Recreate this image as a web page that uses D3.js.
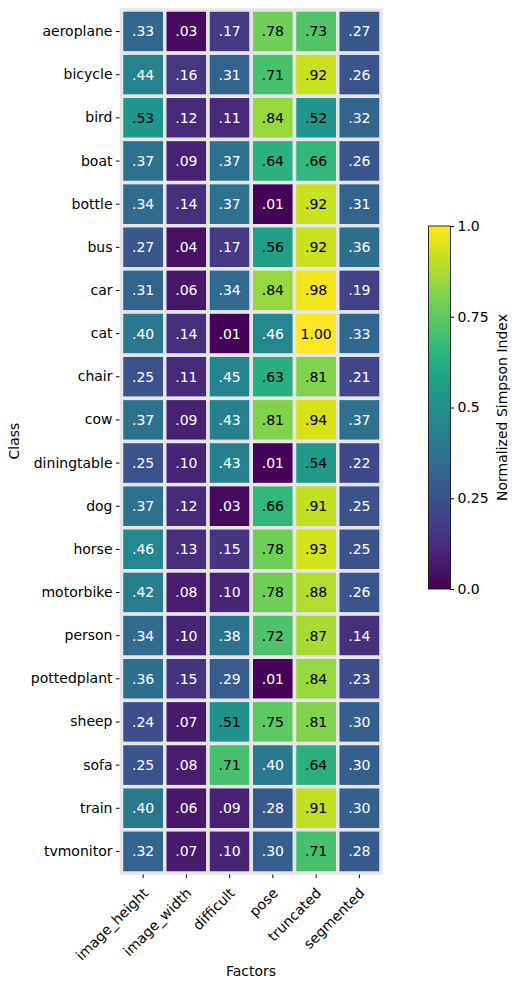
<!DOCTYPE html>
<html>
<head>
<meta charset="utf-8">
<script src="https://cdn.jsdelivr.net/npm/d3@7"></script>
<style>
  body { margin: 0; background: #fff; }
  text { font-family: "DejaVu Sans", sans-serif; fill: #000; }
</style>
</head>
<body>
<svg id="chart" width="519" height="990"></svg>
<script>
var classes = ['aeroplane','bicycle','bird','boat','bottle','bus','car','cat','chair','cow',
               'diningtable','dog','horse','motorbike','person','pottedplant','sheep','sofa','train','tvmonitor'];
var factors = ['image_height','image_width','difficult','pose','truncated','segmented'];

// one row per class, columns in factor order
var values = [
  [.33, .03, .17, .78, .73, .27],
  [.44, .16, .31, .71, .92, .26],
  [.53, .12, .11, .84, .52, .32],
  [.37, .09, .37, .64, .66, .26],
  [.34, .14, .37, .01, .92, .31],
  [.27, .04, .17, .56, .92, .36],
  [.31, .06, .34, .84, .98, .19],
  [.40, .14, .01, .46, 1.00, .33],
  [.25, .11, .45, .63, .81, .21],
  [.37, .09, .43, .81, .94, .37],
  [.25, .10, .43, .01, .54, .22],
  [.37, .12, .03, .66, .91, .25],
  [.46, .13, .15, .78, .93, .25],
  [.42, .08, .10, .78, .88, .26],
  [.34, .10, .38, .72, .87, .14],
  [.36, .15, .29, .01, .84, .23],
  [.24, .07, .51, .75, .81, .30],
  [.25, .08, .71, .40, .64, .30],
  [.40, .06, .09, .28, .91, .30],
  [.32, .07, .10, .30, .71, .28]
];
var cbarTicks = [0, 0.25, 0.5, 0.75, 1.0];
var cbarLabels = ['0.0', '0.25', '0.5', '0.75', '1.0'];

var svg = d3.select("#chart");

var x = d3.scaleBand().domain(factors).range([121.5, 381]);
var y = d3.scaleBand().domain(classes).range([10, 873]);
var color = d3.scaleSequential(d3.interpolateViridis).domain([0, 1]);

var cells = [];
values.forEach(function(row, i) {
  row.forEach(function(v, j) {
    cells.push({cls: classes[i], f: factors[j], v: v});
  });
});

function fmt(v) {
  var s = v.toFixed(2);
  return s.charAt(0) === '0' ? s.slice(1) : s;
}

svg.selectAll("rect.cell")
  .data(cells)
  .join("rect")
    .attr("class", "cell")
    .attr("x", function(d) { return x(d.f); })
    .attr("y", function(d) { return y(d.cls); })
    .attr("width", x.bandwidth())
    .attr("height", y.bandwidth())
    .attr("fill", function(d) { return color(d.v); })
    .attr("stroke", "#e6e6e6")
    .attr("stroke-width", 3.5);

svg.selectAll("text.val")
  .data(cells)
  .join("text")
    .attr("class", "val")
    .attr("x", function(d) { return x(d.f) + x.bandwidth() / 2; })
    .attr("y", function(d) { return y(d.cls) + y.bandwidth() / 2; })
    .attr("dy", "0.35em")
    .attr("text-anchor", "middle")
    .style("font-size", "14px")
    .style("fill", function(d) { return d.v > 0.5 ? "#000" : "#fff"; })
    .text(function(d) { return fmt(d.v); });

// y axis
var yAxis = svg.append("g")
  .attr("transform", "translate(119.5,0)")
  .call(d3.axisLeft(y).tickSize(3.5).tickPadding(3.5));
yAxis.select(".domain").remove();
yAxis.selectAll("text").style("font-size", "14px").style("font-family", "DejaVu Sans");

// x axis
var xAxis = svg.append("g")
  .attr("transform", "translate(0,874.5)")
  .call(d3.axisBottom(x).tickSize(3.5).tickFormat(""));
xAxis.select(".domain").remove();

svg.selectAll("text.xlab")
  .data(factors)
  .join("text")
    .attr("class", "xlab")
    .attr("transform", function(d) {
      return "translate(" + (x(d) + x.bandwidth() / 2 + 6) + ",894) rotate(-45)";
    })
    .attr("text-anchor", "end")
    .style("font-size", "14px")
    .text(function(d) { return d; });

svg.append("text")
  .attr("x", 251)
  .attr("y", 976)
  .attr("text-anchor", "middle")
  .style("font-size", "14px")
  .text("Factors");

svg.append("text")
  .attr("transform", "translate(19,441) rotate(-90)")
  .attr("text-anchor", "middle")
  .style("font-size", "14px")
  .text("Class");

// colorbar
var cb = {x: 428.5, y: 226, w: 22, h: 363};
var cy = d3.scaleLinear().domain([0, 1]).range([cb.y + cb.h, cb.y]);
var defs = svg.append("defs");
var grad = defs.append("linearGradient")
  .attr("id", "viridis")
  .attr("x1", "0").attr("y1", "1").attr("x2", "0").attr("y2", "0");
d3.range(0, 1.0001, 0.05).forEach(function(t) {
  grad.append("stop").attr("offset", t).attr("stop-color", color(t));
});
svg.append("rect")
  .attr("x", cb.x).attr("y", cb.y)
  .attr("width", cb.w).attr("height", cb.h)
  .attr("fill", "url(#viridis)")
  .attr("stroke", "#000")
  .attr("stroke-width", 0.8);

var cAxis = svg.append("g")
  .attr("transform", "translate(" + (cb.x + cb.w) + ",0)")
  .call(d3.axisRight(cy).tickValues(cbarTicks).tickSize(3.5).tickPadding(3.5)
        .tickFormat(function(d, i) { return cbarLabels[i]; }));
cAxis.select(".domain").remove();
cAxis.selectAll("text").style("font-size", "14px").style("font-family", "DejaVu Sans");

svg.append("text")
  .attr("transform", "translate(507," + (cb.y + cb.h / 2) + ") rotate(-90)")
  .attr("text-anchor", "middle")
  .style("font-size", "14px")
  .text("Normalized Simpson Index");
</script>
</body>
</html>
